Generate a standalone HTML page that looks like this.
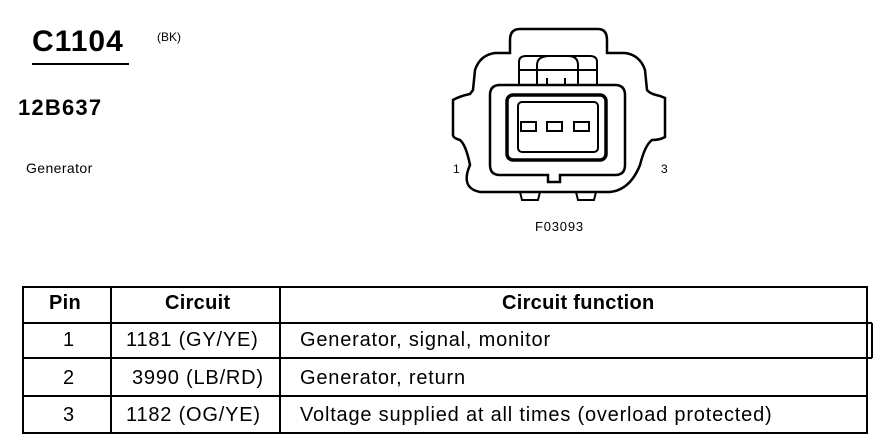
<!DOCTYPE html>
<html><head><style>
body{margin:0;width:874px;height:448px;background:#fff;position:relative;font-family:"Liberation Sans",Arial,sans-serif;color:#000;overflow:hidden}
.t{position:absolute;white-space:nowrap}
.r{font-size:20px;letter-spacing:0.8px}
.h{font-size:20px;font-weight:bold;letter-spacing:0.3px}
</style></head><body>
<div class="t" style="left:32px;top:25px;font-size:30px;font-weight:bold;letter-spacing:1px">C1104</div>
<div style="position:absolute;left:32px;top:63px;width:97px;height:2px;background:#000"></div>
<div class="t" style="left:157px;top:30px;font-size:12px">(BK)</div>
<div class="t" style="left:18px;top:95px;font-size:22px;font-weight:bold;letter-spacing:1.2px">12B637</div>
<div class="t" style="left:26px;top:160px;font-size:14px;letter-spacing:0.4px">Generator</div>
<div class="t" style="left:453px;top:162px;font-size:12px">1</div>
<div class="t" style="left:661px;top:162px;font-size:12px">3</div>
<div class="t" style="left:535px;top:219px;font-size:13px;letter-spacing:0.8px">F03093</div>
<svg width="874" height="448" style="position:absolute;left:0;top:0" fill="none" stroke="#000">
<path d="M510 40 Q510 29 520 29 L598 29 Q607 29 607 40 L607 53 L625 53 Q640 55 645 70 L647 90 Q650 94 660 96 L665 98 L665 137 Q660 140 652 140 Q645 145 640 165 Q630 190 610 192 L480 192 Q460 188 470 165 Q466 145 460 140 Q453 138 453 135 L453 100 Q460 96 470 94 L473 90 L475 70 Q480 55 495 53 L510 53 Z" stroke-width="2.5"/>
<path d="M500 85 L615 85 Q625 85 625 95 L625 165 Q625 175 615 175 L560 175 L560 182 L548 182 L548 175 L500 175 Q490 175 490 165 L490 95 Q490 85 500 85 Z" stroke-width="2.5"/>
<rect x="507" y="95" width="99" height="65" rx="6" stroke-width="3.5"/>
<rect x="518" y="102" width="80" height="50" rx="4" stroke-width="2"/>
<rect x="521" y="122" width="15" height="9" stroke-width="2"/>
<rect x="547" y="122" width="15" height="9" stroke-width="2"/>
<rect x="574" y="122" width="15" height="9" stroke-width="2"/>
<path d="M519 85 L519 62 Q519 56 526 56 L590 56 Q597 56 597 62 L597 85" stroke-width="2"/>
<path d="M537 85 L537 65 Q537 56 550 56 L568 56 Q578 56 578 65 L578 85 M519 70 L597 70 M547 78 L547 85 M565 78 L565 85" stroke-width="2"/>
<path d="M520 192 L522 200 L538 200 L540 192 M576 192 L578 200 L594 200 L596 192" stroke-width="2"/>
<g stroke-width="2">
<rect x="23" y="287" width="844" height="146"/>
<line x1="23" y1="323" x2="867" y2="323"/>
<line x1="23" y1="358" x2="872" y2="358"/>
<line x1="867" y1="323" x2="872" y2="323"/><line x1="872" y1="323" x2="872" y2="358"/>
<line x1="23" y1="396" x2="867" y2="396"/>
<line x1="111" y1="287" x2="111" y2="433"/>
<line x1="280" y1="287" x2="280" y2="433"/>
</g>
</svg>
<div class="t h" style="left:49px;top:292px">Pin</div>
<div class="t h" style="left:165px;top:292px">Circuit</div>
<div class="t h" style="left:502px;top:292px">Circuit function</div>
<div class="t r" style="left:63px;top:329px">1</div>
<div class="t r" style="left:63px;top:367px">2</div>
<div class="t r" style="left:63px;top:404px">3</div>
<div class="t r" style="left:126px;top:329px">1181 (GY/YE)</div>
<div class="t r" style="left:132px;top:367px">3990 (LB/RD)</div>
<div class="t r" style="left:126px;top:404px">1182 (OG/YE)</div>
<div class="t r" style="left:300px;top:329px">Generator, signal, monitor</div>
<div class="t r" style="left:300px;top:367px">Generator, return</div>
<div class="t r" style="left:300px;top:404px">Voltage supplied at all times (overload protected)</div>
</body></html>
